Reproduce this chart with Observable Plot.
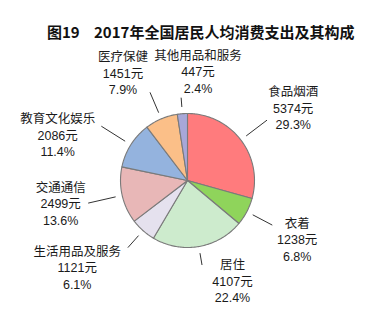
<!DOCTYPE html>
<html><head><meta charset="utf-8">
<script src="https://cdn.jsdelivr.net/npm/d3@7"></script>
<script src="https://cdn.jsdelivr.net/npm/@observablehq/plot@0.6"></script>
<style>
body{margin:0;background:#fff;width:383px;height:322px;overflow:hidden;font-family:"Noto Sans CJK SC",sans-serif;}
#title{position:relative;height:44px;}
#title span{position:absolute;top:22px;line-height:20px;font-size:15px;font-weight:bold;color:#111;white-space:nowrap}
</style></head><body>
<div id="title"><span style="left:47px">图19</span><span style="left:94px">2017年全国居民人均消费支出及其构成</span></div>
<div id="chart"></div>
<script>
// Data (clockwise from 12 o'clock)
const categories = ["食品烟酒","衣着","居住","生活用品及服务","交通通信","教育文化娱乐","医疗保健","其他用品和服务"];
const values = [5374, 1238, 4107, 1121, 2499, 2086, 1451, 447];
const percents = ["29.3%","6.8%","22.4%","6.1%","13.6%","11.4%","7.9%","2.4%"];
const colors = ["#ff7b7d","#8fd45b","#cdebcd","#e5e1ee","#e8b7b7","#94b3de","#fbbf88","#a7a7d8"];

// Layout (label placement tweaks, in px, and leader end radius in pie radii)
const labelLayout = {
  "食品烟酒":{lead:1.49, dx:7, dy:2},
  "衣着":{lead:1.43, dx:0, dy:1},
  "居住":{lead:1.28, dx:24, dy:-22},
  "生活用品及服务":{lead:1.34, dx:-28, dy:-6},
  "交通通信":{lead:1.52, dx:-6, dy:-5},
  "教育文化娱乐":{lead:1.52, dx:-25, dy:20},
  "医疗保健":{lead:1.43, dx:-16, dy:6},
  "其他用品和服务":{lead:1.24, dx:20, dy:14}
};

const W = 383, H = 278, cx = 187, cy = 136, R = 67;
const arcs = d3.pie().sort(null).value(d => d)(values);
const polar = (a, r) => ({x: r * Math.sin(a), y: r * Math.cos(a)});

const slicePts = [];
const leaders = [];
const labels = [];
arcs.forEach((a, i) => {
  const cat = categories[i];
  slicePts.push({cat, ...polar(0, 0)});
  const n = Math.max(2, Math.ceil((a.endAngle - a.startAngle) / (Math.PI / 180)));
  for (let k = 0; k <= n; k++) {
    const t = a.startAngle + (a.endAngle - a.startAngle) * k / n;
    slicePts.push({cat, ...polar(t, 1)});
  }
  const mid = (a.startAngle + a.endAngle) / 2;
  const L = labelLayout[cat];
  const p1 = polar(mid, 1.1), p2 = polar(mid, L.lead);
  leaders.push({x1: p1.x, y1: p1.y, x2: p2.x, y2: p2.y});
  const pl = polar(mid, 1.85);
  labels.push({x: pl.x + L.dx / R, y: pl.y - L.dy / R, text: `${cat}\n${values[i]}元\n${percents[i]}`});
});

const chart = Plot.plot({
  width: W, height: H, margin: 0,
  x: {domain: [-cx / R, (W - cx) / R], range: [0, W], axis: null},
  y: {domain: [-(H - cy) / R, cy / R], range: [H, 0], axis: null},
  color: {domain: categories, range: colors},
  style: {fontFamily: '"Liberation Sans", "Noto Sans CJK SC", sans-serif', background: "white", overflow: "visible"},
  marks: [
    Plot.line(slicePts, {x: "x", y: "y", z: "cat", fill: "cat", stroke: "#7a7a7a", strokeWidth: 1.1, curve: "linear-closed", strokeLinejoin: "round"}),
    Plot.link(leaders, {x1: "x1", y1: "y1", x2: "x2", y2: "y2", stroke: "#333", strokeWidth: 1}),
    Plot.text(labels, {x: "x", y: "y", text: "text", fontSize: 12.5, lineHeight: 1.32, fill: "#1a1a1a"})
  ]
});
document.getElementById("chart").appendChild(chart);
</script>
</body></html>
